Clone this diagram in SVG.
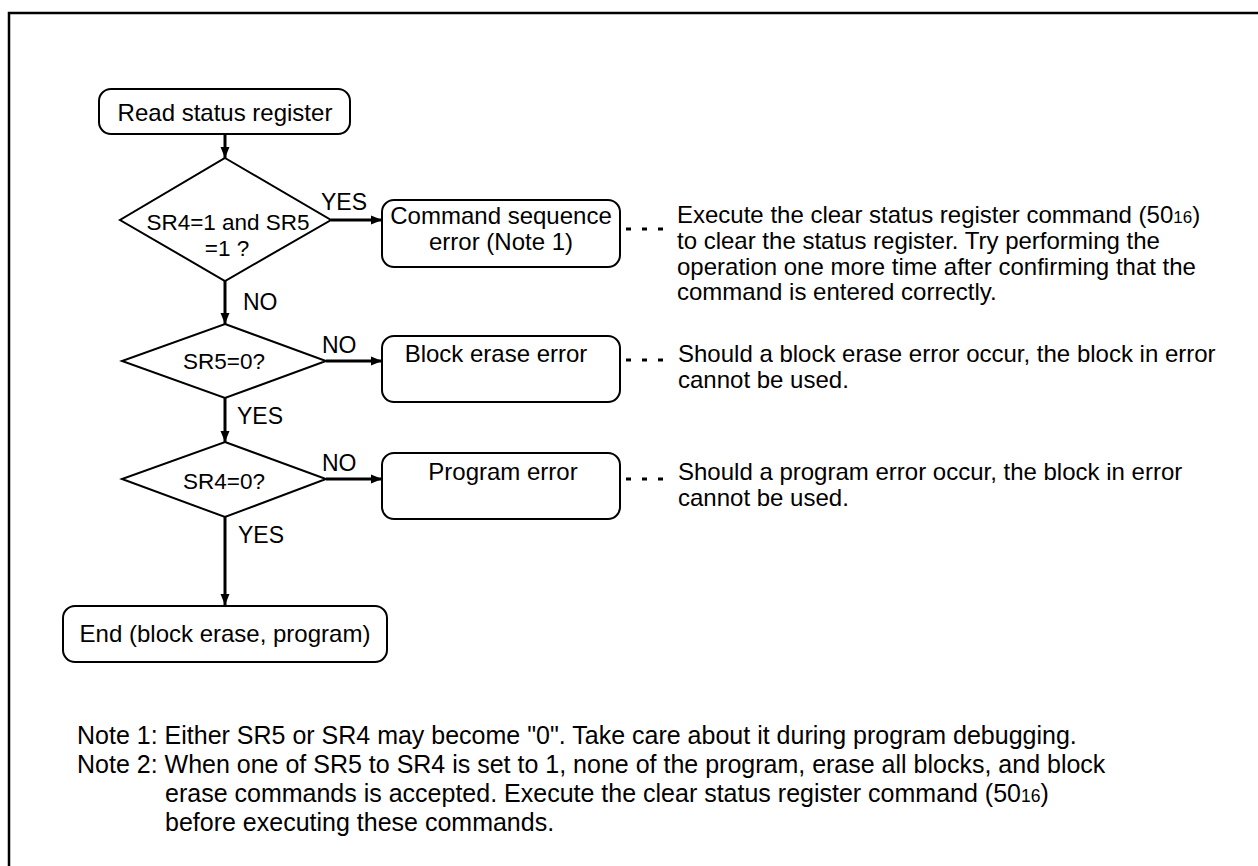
<svg xmlns="http://www.w3.org/2000/svg" width="1258" height="866" viewBox="0 0 1258 866">
<defs>
<marker id="ah" markerWidth="11" markerHeight="10" refX="11" refY="5" orient="auto" markerUnits="userSpaceOnUse" viewBox="0 0 11 10">
<path d="M0,0.5 L11,5 L0,9.5 Z" fill="#000"/>
</marker>
<style>
text{font-family:"Liberation Sans",Arial,sans-serif;fill:#000}
.bt{font-size:24px;text-anchor:middle}
.dt{font-size:22.5px;text-anchor:middle}
.lb{font-size:23px}
.ds{font-size:24px}
.nt{font-size:25px}
.sub{font-size:17px}
.nsub{font-size:17.5px}
.box{fill:#fff;stroke:#000;stroke-width:2}
.dia{fill:#fff;stroke:#000;stroke-width:2}
.con{stroke:#000;stroke-width:3;fill:none;marker-end:url(#ah)}
.lead{stroke:#000;stroke-width:3;stroke-dasharray:5 11;fill:none}
</style>
</defs>
<rect x="0" y="0" width="1258" height="866" fill="#fff"/>
<rect id="frame" x="9" y="13" width="1300" height="900" fill="none" stroke="#000" stroke-width="2.5"/>

<g id="connectors">
<line class="con" x1="225" y1="134" x2="225" y2="158"/>
<line class="con" x1="225" y1="281" x2="225" y2="324"/>
<line class="con" x1="225" y1="398" x2="225" y2="442"/>
<line class="con" x1="225" y1="517" x2="225" y2="605"/>
<line class="con" x1="331" y1="220" x2="382" y2="220"/>
<line class="con" x1="326" y1="361" x2="382" y2="361"/>
<line class="con" x1="326" y1="479" x2="382" y2="479"/>
<line class="lead" x1="626" y1="229" x2="666" y2="229"/>
<line class="lead" x1="626" y1="360" x2="666" y2="360"/>
<line class="lead" x1="626" y1="479" x2="666" y2="479"/>
<text class="lb" x="321" y="210">YES</text>
<text class="lb" x="243" y="310">NO</text>
<text class="lb" x="322" y="353">NO</text>
<text class="lb" x="237" y="424">YES</text>
<text class="lb" x="322" y="471">NO</text>
<text class="lb" x="238" y="543">YES</text>
</g>

<g id="start">
<rect class="box" x="99" y="89" width="251" height="45" rx="12"/>
<text class="bt" x="225" y="121">Read status register</text>
</g>

<g id="d1">
<polygon class="dia" points="225,158 331,220 225,281 120,220"/>
<text class="dt" x="228" y="230">SR4=1 and SR5</text>
<text class="dt" x="227" y="256">=1 ?</text>
</g>

<g id="d2">
<polygon class="dia" points="225,324 326,361 225,398 122,361"/>
<text class="dt" x="224" y="369">SR5=0?</text>
</g>

<g id="d3">
<polygon class="dia" points="225,442 326,479 225,517 122,479"/>
<text class="dt" x="224" y="489">SR4=0?</text>
</g>

<g id="cmdErr">
<rect class="box" x="382" y="200" width="238" height="67" rx="12"/>
<text class="bt" x="501" y="224">Command sequence</text>
<text class="bt" x="501" y="250">error (Note 1)</text>
</g>

<g id="blkErr">
<rect class="box" x="382" y="336" width="238" height="66" rx="12"/>
<text class="bt" x="496" y="362">Block erase error</text>
</g>

<g id="prgErr">
<rect class="box" x="382" y="453" width="238" height="66" rx="12"/>
<text class="bt" x="503" y="480">Program error</text>
</g>

<g id="end">
<rect class="box" x="63" y="606" width="324" height="56" rx="12"/>
<text class="bt" x="225" y="642">End (block erase, program)</text>
</g>

<g id="desc1">
<text class="ds" x="677" y="223">Execute the clear status register command (50<tspan class="sub">16</tspan>)</text>
<text class="ds" x="677" y="249">to clear the status register. Try performing the</text>
<text class="ds" x="677" y="275">operation one more time after confirming that the</text>
<text class="ds" x="677" y="300">command is entered correctly.</text>
</g>

<g id="desc2">
<text class="ds" x="678" y="362">Should a block erase error occur, the block in error</text>
<text class="ds" x="678" y="388">cannot be used.</text>
</g>

<g id="desc3">
<text class="ds" x="678" y="480">Should a program error occur, the block in error</text>
<text class="ds" x="678" y="506">cannot be used.</text>
</g>

<g id="notes">
<text class="nt" x="77" y="744">Note 1: Either SR5 or SR4 may become "0". Take care about it during program debugging.</text>
<text class="nt" x="77" y="773">Note 2: When one of SR5 to SR4 is set to 1, none of the program, erase all blocks, and block</text>
<text class="nt" x="165" y="802">erase commands is accepted. Execute the clear status register command (50<tspan class="nsub">16</tspan>)</text>
<text class="nt" x="165" y="831">before executing these commands.</text>
</g>
</svg>
